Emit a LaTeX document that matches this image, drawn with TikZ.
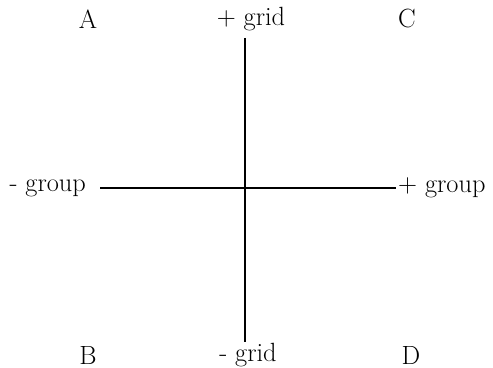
\documentclass[tikz,border=0pt]{standalone}
\usetikzlibrary{positioning}
\tikzset{
  lbl/.style={font=\fontsize{15}{18}\selectfont,inner sep=1pt},
  axis/.style={line width=1.1pt,black}
}
\begin{document}
\begin{tikzpicture}[x=0.02cm,y=-0.02cm]
  \useasboundingbox (0,0) rectangle (493,368);

  % Corner labels
  \node[lbl] (qa) at (88,19) {A};
  \node[lbl] (qc) at (407,19) {C};
  \node[lbl] (qb) at (88,355) {B};
  \node[lbl] (qd) at (411,355) {D};

  % Axis labels
  \node[lbl] (pgrid) at (251,19) {+ grid};
  \node[lbl] (mgrid) at (248,355) {- grid};
  \node[lbl,anchor=east] (mgroup) at (88,188) {- group};
  \node[lbl,anchor=west] (pgroup) at (396,188) {+ group};

  \coordinate (gtop) at (245,38);
  \coordinate (gbot) at (245,342);

  \draw[axis] (gtop) -- (gbot);
  \draw[axis] ([xshift=7pt]mgroup.east) -- (pgroup.west);
\end{tikzpicture}
\end{document}
